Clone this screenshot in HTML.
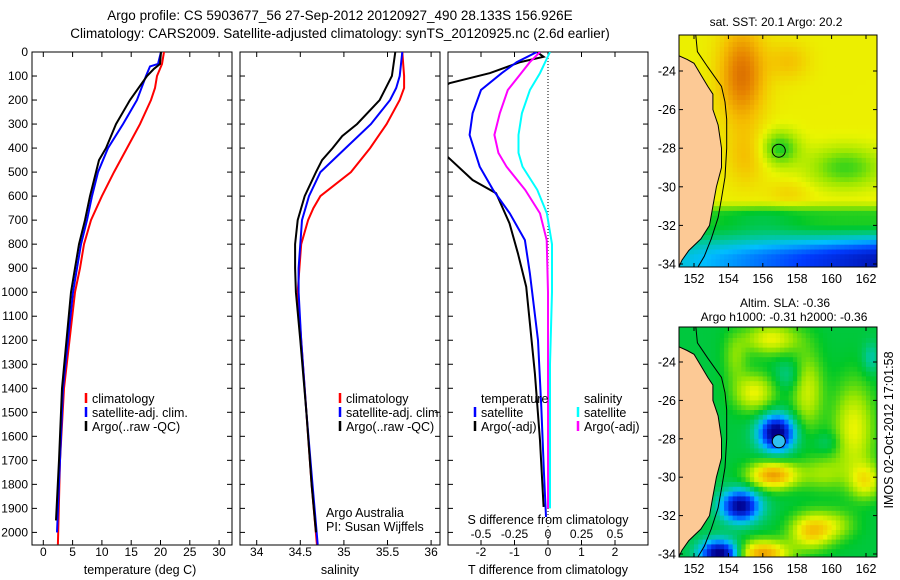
<!DOCTYPE html>
<html><head><meta charset="utf-8"><style>
html,body{margin:0;padding:0;background:#fff;}
svg{display:block;font-family:"Liberation Sans",sans-serif;}
</style></head><body>
<svg id="fig" width="900" height="580" viewBox="0 0 900 580" xmlns="http://www.w3.org/2000/svg">
<text x="340" y="20" font-size="13.5" text-anchor="middle">Argo profile: CS 5903677_56 27-Sep-2012 20120927_490 28.133S 156.926E</text>
<text x="340" y="38" font-size="13.5" text-anchor="middle">Climatology: CARS2009. Satellite-adjusted climatology: synTS_20120925.nc (2.6d earlier)</text>
<g id="g1"></g>
<g id="g2"></g>
<g id="g3"></g>
<g id="m1"></g>
<g id="m2"></g>
<text transform="translate(893,430) rotate(-90)" font-size="12.5" text-anchor="middle">IMOS 02-Oct-2012 17:01:58</text>
</svg>
<script>
// ---- data ----
const tClimDepth=[0,50,100,150,200,300,400,500,600,700,800,900,1000,1400,1700,2050];
const tClim=[20.6,20.26,19.4,19.06,18.38,16.5,14.28,12.06,10.0,8.14,6.95,6.26,5.41,3.53,2.85,2.5];
const tSatDepth=[0,50,60,100,200,300,400,500,600,700,800,900,1000,1400,1700,2000];
const tSat=[20.08,19.57,18.2,17.53,15.99,13.6,11.04,9.33,8.31,7.46,6.43,5.75,5.07,3.36,2.85,2.34];
const tArgoDepth=[0,50,70,100,200,300,400,450,500,600,700,800,900,1000,1400,1700,1950];
const tArgo=[20.08,19.91,18.89,17.7,14.8,12.41,10.7,9.51,9.0,7.97,7.12,6.1,5.41,4.73,3.19,2.68,2.17];
const sClimDepth=[0,100,150,200,300,400,500,600,650,700,800,900,1000,1200,1500,1800,2050];
const sClim=[35.67,35.69,35.69,35.64,35.49,35.30,35.08,34.73,34.65,34.59,34.51,34.49,34.47,34.51,34.57,34.63,34.69];
const sSatDepth=[0,100,150,200,300,400,500,600,700,800,900,1000,1200,1500,1800,2050];
const sSat=[35.67,35.64,35.60,35.53,35.31,35.02,34.73,34.60,34.52,34.50,34.48,34.48,34.51,34.57,34.64,34.70];
const sArgoDepth=[0,100,200,300,350,400,450,500,600,700,800,900,1000,1200,1500,1800,2000];
const sArgo=[35.59,35.55,35.41,35.15,34.98,34.87,34.75,34.68,34.55,34.47,34.44,34.44,34.45,34.50,34.57,34.63,34.68];
const dTSatDepth=[0,42,88,158,255,345,477,574,672,783,922,1200,1478,1756,1936];
const dTSat=[-0.33,-0.93,-1.38,-2.0,-2.25,-2.34,-2.04,-1.64,-1.14,-0.69,-0.54,-0.3,-0.2,-0.12,-0.06];
const dTArgoDepth=[0,20,42,88,130,170,250,350,436,533,588,713,838,977,1130,1339,1617,1894];
const dTArgo=[-0.33,-0.13,-0.83,-1.73,-2.94,-3.4,-3.6,-3.5,-3.0,-2.25,-1.55,-1.15,-0.9,-0.65,-0.54,-0.39,-0.24,-0.13];
const dSSatDepth=[0,88,158,255,345,420,477,574,672,800,1000,1300,1900];
const dSSat=[0.015,-0.06,-0.135,-0.195,-0.22,-0.22,-0.19,-0.08,-0.008,0.03,0.03,0.015,0.015];
const dSArgoDepth=[0,42,88,158,255,345,420,477,574,672,783,1000,1300,1900];
const dSArgo=[-0.06,-0.135,-0.2,-0.3,-0.36,-0.4,-0.37,-0.31,-0.17,-0.06,-0.01,0,0,0];
const tTicks=[0,5,10,15,20,25,30];
const sTicks=[34,34.5,35,35.5,36];
const dTTicks=[-2,-1,0,1,2];
const dSTicks=[-0.5,-0.25,0,0.25,0.5];
const depthTicks=[0,100,200,300,400,500,600,700,800,900,1000,1100,1200,1300,1400,1500,1600,1700,1800,1900,2000];
const lonTicks=[152,154,156,158,160,162];
const latTicks=[-24,-26,-28,-30,-32,-34];

const NS='http://www.w3.org/2000/svg';
function mk(parent,tag,attrs,txt){const e=document.createElementNS(NS,tag);for(const k in attrs)e.setAttribute(k,attrs[k]);if(txt!==undefined)e.textContent=txt;parent.appendChild(e);return e;}
const Y0=52,PXM=0.2402,YB=545;
const yD=d=>Y0+d*PXM;
const xT=v=>43.3+5.86*v;
const xS=v=>256.7+87.2*(v-34);
const xDT=v=>548+33.5*v;
const xDS=v=>548+134*v;

function panel(g,x0,x1,id){
  const r=mk(g,'rect',{x:x0,y:Y0,width:x1-x0,height:YB-Y0,fill:'none',stroke:'#000','stroke-width':1});
  
  
  depthTicks.forEach(d=>{const y=yD(d);mk(g,'line',{x1:x0,x2:x0+5,y1:y,y2:y,stroke:'#000'});mk(g,'line',{x1:x1,x2:x1-5,y1:y,y2:y,stroke:'#000'});});
  const cp=mk(g,'clipPath',{id:'c'+id});mk(cp,'rect',{x:x0,y:Y0,width:x1-x0,height:YB-Y0});
}
function xticks(g,ticks,fx,ylab){
  ticks.forEach(t=>{const x=fx(t);mk(g,'line',{x1:x,x2:x,y1:YB,y2:YB-5,stroke:'#000'});mk(g,'line',{x1:x,x2:x,y1:Y0,y2:Y0+5,stroke:'#000'});
    const tl=mk(g,'text',{x:x,y:ylab,'font-size':12,'text-anchor':'middle'},String(t));
    
    });
}
function line(g,id,depths,vals,fx,color,name){
  const pts=depths.map((d,i)=>fx(vals[i]).toFixed(1)+','+yD(d).toFixed(1)).join(' ');
  const p=mk(g,'polyline',{points:pts,fill:'none',stroke:color,'stroke-width':2,'clip-path':'url(#c'+id+')'});
  
  
}
function legend(g,x,y,color,label){
  mk(g,'line',{x1:x,x2:x,y1:y-10,y2:y,stroke:color,'stroke-width':2.5});
  const t=mk(g,'text',{x:x+6,y:y,'font-size':12.5},label);
  
  
}
const g1=document.getElementById('g1');
panel(g1,32,232,'p1');
depthTicks.forEach(d=>{const t=mk(g1,'text',{x:28,y:yD(d)+4,'font-size':12,'text-anchor':'end'},String(d));
  
  });
xticks(g1,tTicks,xT,556);
mk(g1,'text',{x:140,y:574,'font-size':12.5,'text-anchor':'middle'},'temperature (deg C)');
line(g1,'p1',tClimDepth,tClim,xT,'#ff0000','temp-climatology-line');
line(g1,'p1',tSatDepth,tSat,xT,'#0000ff','temp-satellite-line');
line(g1,'p1',tArgoDepth,tArgo,xT,'#000000','temp-argo-line');
legend(g1,86,403,'#ff0000','climatology');legend(g1,86,417,'#0000ff','satellite-adj. clim.');legend(g1,86,431,'#000','Argo(..raw -QC)');
const g2=document.getElementById('g2');
panel(g2,240,440,'p2');
xticks(g2,sTicks,xS,556);
mk(g2,'text',{x:340,y:574,'font-size':12.5,'text-anchor':'middle'},'salinity');
line(g2,'p2',sClimDepth,sClim,xS,'#ff0000','sal-climatology-line');
line(g2,'p2',sSatDepth,sSat,xS,'#0000ff','sal-satellite-line');
line(g2,'p2',sArgoDepth,sArgo,xS,'#000000','sal-argo-line');
legend(g2,340,403,'#ff0000','climatology');legend(g2,340,417,'#0000ff','satellite-adj. clim.');legend(g2,340,431,'#000','Argo(..raw -QC)');
mk(g2,'text',{x:326,y:517,'font-size':12.5},'Argo Australia');
mk(g2,'text',{x:326,y:531,'font-size':12.5},'PI: Susan Wijffels');
const g3=document.getElementById('g3');
panel(g3,448,648,'p3');
mk(g3,'line',{x1:548,x2:548,y1:Y0,y2:YB,stroke:'#000','stroke-dasharray':'1,2'});
xticks(g3,dTTicks,xDT,556);
dSTicks.forEach(t=>{const s=mk(g3,'text',{x:xDS(t),y:538,'font-size':12,'text-anchor':'middle'},String(t));
  
  });
mk(g3,'text',{x:548,y:524,'font-size':12.5,'text-anchor':'middle'},'S difference from climatology');
mk(g3,'text',{x:548,y:574,'font-size':12.5,'text-anchor':'middle'},'T difference from climatology');
line(g3,'p3',dTArgoDepth,dTArgo,xDT,'#000000','dt-argo-line');
line(g3,'p3',dTSatDepth,dTSat,xDT,'#0000ff','dt-satellite-line');
line(g3,'p3',dSSatDepth,dSSat,xDS,'#00ffff','ds-satellite-line');
line(g3,'p3',dSArgoDepth,dSArgo,xDS,'#ff00ff','ds-argo-line');
mk(g3,'text',{x:481,y:403,'font-size':12.5},'temperature');
mk(g3,'text',{x:584,y:403,'font-size':12.5},'salinity');
legend(g3,475,417,'#0000ff','satellite');legend(g3,475,431,'#000','Argo(-adj)');
legend(g3,578,417,'#00ffff','satellite');legend(g3,578,431,'#ff00ff','Argo(-adj)');

// ---- maps ----
const cmap=[[0,[0,0,140]],[0.18,[0,60,255]],[0.32,[0,190,255]],[0.42,[0,200,150]],[0.52,[0,200,40]],[0.62,[150,230,0]],[0.7,[235,245,0]],[0.8,[245,190,0]],[0.9,[230,130,0]],[1,[200,80,0]]];
function col(v){v=Math.max(0,Math.min(1,v));for(let i=1;i<cmap.length;i++){if(v<=cmap[i][0]){const a=cmap[i-1],b=cmap[i],f=(v-a[0])/(b[0]-a[0]);return 'rgb('+a[1].map((c,k)=>Math.round(c+(b[1][k]-c)*f)).join(',')+')';}}return 'rgb(200,80,0)';}
const blob=(lo,la,cx,cy,rx,ry,a)=>a*Math.exp(-(((lo-cx)/rx)**2+((la-cy)/ry)**2));
const ss=(a,b,x)=>{const t=Math.max(0,Math.min(1,(x-a)/(b-a)));return t*t*(3-2*t);};
function sst(lo,la){
 let v=0.71;
 v-=0.17*ss(-30.6,-31.5,la);
 v-=(0.18+0.025*(lo-151))*ss(-31.8,-33.8,la);
 v+=blob(lo,la,154.8,-24.2,1.3,2.4,0.22)+blob(lo,la,157.5,-23.5,1.2,1,0.08)+blob(lo,la,155,-28.5,1.1,1.5,0.08);
 v+=blob(lo,la,157,-28,1.1,0.9,-0.17)+blob(lo,la,160.8,-29,2.2,1.1,-0.15)+blob(lo,la,156,-31.8,2.2,0.8,-0.05);
 v+=blob(lo,la,157.5,-30.3,1.2,0.6,0.05);
 return v;}
function sla(lo,la){let v=0.5;
 v+=blob(lo,la,156.8,-27.7,1.0,0.9,-0.55)+blob(lo,la,154.7,-31.5,1.1,0.8,-0.5)+blob(lo,la,153.5,-34,1.1,0.7,-0.55);
 v+=blob(lo,la,156.6,-29.9,1.4,0.7,0.35)+blob(lo,la,158.8,-32.8,1.2,0.9,0.27)+blob(lo,la,156,-34,1.5,0.7,0.35);
 v+=blob(lo,la,161.3,-27.5,1.2,2.4,0.2)+blob(lo,la,155.5,-25.6,1.2,1.0,0.2)+blob(lo,la,156.5,-22.8,1.6,0.8,0.2)+blob(lo,la,162,-30.2,0.9,0.9,0.2);
 v+=blob(lo,la,158.6,-25.5,0.9,2,0.17)+blob(lo,la,159.5,-29.8,1.3,0.9,0.12)+blob(lo,la,160.2,-32.5,1.2,0.8,0.12)+blob(lo,la,154.4,-23.8,0.7,1.2,0.1);
 v+=blob(lo,la,157.5,-24.7,0.8,0.8,-0.08)+blob(lo,la,162.3,-23.8,0.5,0.8,-0.1)+blob(lo,la,159.8,-28.2,0.8,0.6,-0.06);
 return v;}
const coast=[[151.1,-23.2],[151.6,-23.4],[152,-23.6],[152.4,-24.2],[152.8,-24.8],[153.1,-25.2],[153.1,-26],[153.4,-26.8],[153.6,-28],[153.6,-29],[153.3,-30],[153.1,-31],[152.9,-32],[152.4,-32.7],[151.7,-33.3],[151.3,-33.8],[151.1,-34.2]];
const shelf=[[152.1,-22.1],[152.2,-23],[152.8,-23.8],[153.6,-24.8],[153.8,-25.6],[153.9,-26.5],[153.9,-28],[153.8,-29.5],[153.6,-30.6],[153.4,-31.6],[153.0,-32.7],[152.6,-33.6],[152.2,-34.2]];
function map(id,y0,y1,la0,laPx,field,title1,title2,filled){
  const g=document.getElementById(id);const X0=679,X1=877;
  const lon0=152,lonPx=17.2;
  const px=lo=>694+(lo-lon0)*lonPx, py=la=>la0+(-24-la)*laPx;
  const cid='clip'+id;const cp=mk(g,'clipPath',{id:cid});mk(cp,'rect',{x:X0,y:y0,width:X1-X0,height:y1-y0});
  const cg=mk(g,'g',{'clip-path':'url(#'+cid+')'});
  const step=0.25;
  for(let lo=151;lo<162.8;lo+=step){for(let la=-22;la>-34.4;la-=step){
    mk(cg,'rect',{x:px(lo).toFixed(1),y:py(la).toFixed(1),width:(step*lonPx+0.6).toFixed(1),height:(step*laPx+0.6).toFixed(1),fill:col(field(lo+step/2,la-step/2))});}}
  const land=coast.map(p=>px(p[0]).toFixed(1)+','+py(p[1]).toFixed(1)).join(' ');
  const lp=mk(cg,'polygon',{points:land+' '+px(150)+','+py(-34.5)+' '+px(150)+','+py(-23.2),fill:'#fcc995',stroke:'#000','stroke-width':1});
  
  
  mk(cg,'polyline',{points:shelf.map(p=>px(p[0]).toFixed(1)+','+py(p[1]).toFixed(1)).join(' '),fill:'none',stroke:'#000','stroke-width':1});
  const c=mk(g,'circle',{cx:px(156.93),cy:py(-28.13),r:6.5,fill:filled?'#30c0f0':'none',stroke:'#000','stroke-width':1});
  
  
  mk(g,'rect',{x:X0,y:y0,width:X1-X0,height:y1-y0,fill:'none',stroke:'#000'});
  lonTicks.forEach(l=>{const x=px(l);mk(g,'line',{x1:x,x2:x,y1:y1,y2:y1-4,stroke:'#000'});mk(g,'line',{x1:x,x2:x,y1:y0,y2:y0+4,stroke:'#000'});
    const t=mk(g,'text',{x:x,y:y1+16,'font-size':12.5,'text-anchor':'middle'},String(l));
    
    });
  latTicks.forEach(l=>{const y=py(l);mk(g,'line',{x1:X0,x2:X0+4,y1:y,y2:y,stroke:'#000'});mk(g,'line',{x1:X1,x2:X1-4,y1:y,y2:y,stroke:'#000'});
    const t=mk(g,'text',{x:X0-3,y:y+4.5,'font-size':12.5,'text-anchor':'end'},String(l));
    
    });
  if(title2){mk(g,'text',{x:740,y:y0-20,'font-size':12},title1);mk(g,'text',{x:784,y:y0-6,'font-size':12,'text-anchor':'middle'},title2);}
  else mk(g,'text',{x:776,y:y0-9,'font-size':12,'text-anchor':'middle'},title1);
}
map('m1',35,267,71,19.3,sst,'sat. SST: 20.1  Argo: 20.2',null,false);
map('m2',327,557,362,19.2,sla,'Altim. SLA: -0.36','Argo h1000: -0.31  h2000: -0.36',true);
</script>
</body></html>
